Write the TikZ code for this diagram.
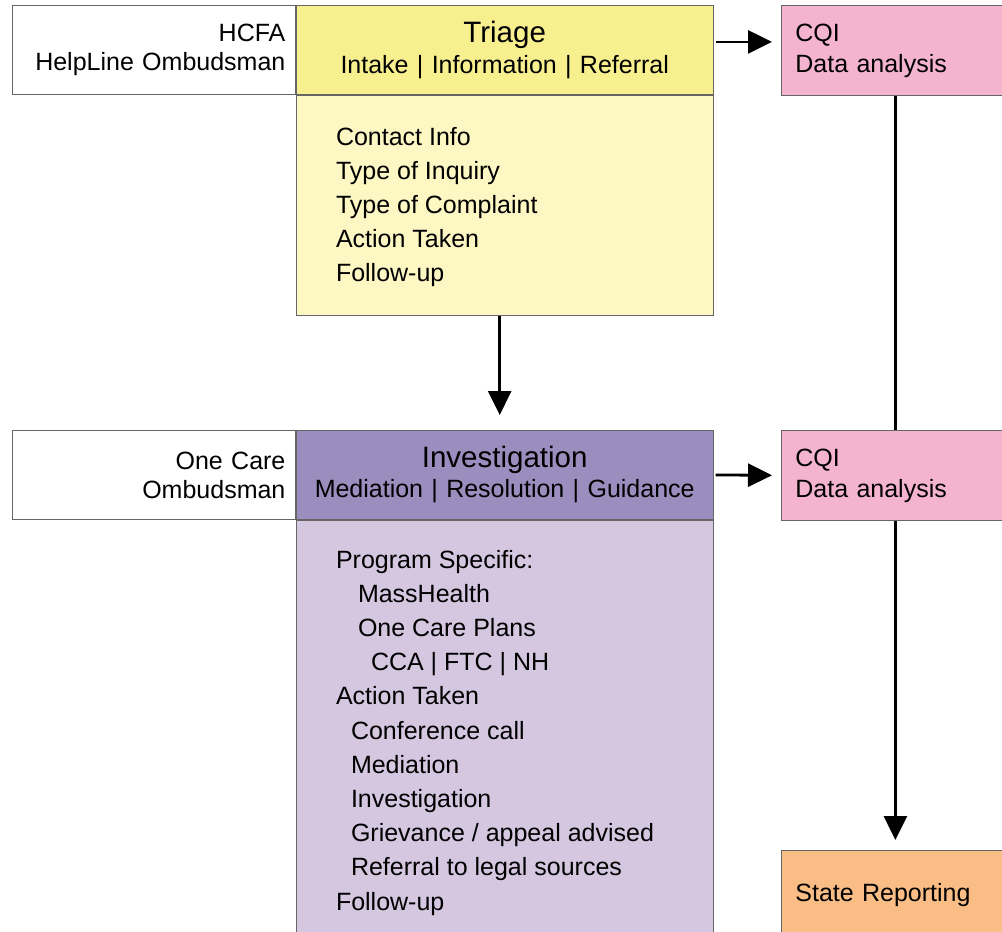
\documentclass[tikz,border=0pt]{standalone}
\usepackage{fontspec}
\setmainfont{Liberation Sans}
\usetikzlibrary{positioning,arrows.meta}

\definecolor{boxline}{HTML}{666666}
\definecolor{triagehead}{HTML}{F8F08E}
\definecolor{triagefill}{HTML}{FCF7C3}
\definecolor{investhead}{HTML}{9B8DBE}
\definecolor{investfill}{HTML}{D5C7E0}
\definecolor{cqipink}{HTML}{F4B3CF}
\definecolor{reportorange}{HTML}{F9BD85}

\begin{document}
\begin{tikzpicture}[x=1pt, y=-1pt,
    side/.style={draw=boxline, line width=0.8pt, fill=white, minimum width=283pt,
                 minimum height=89pt, text width=263pt, align=right, inner xsep=10pt,
                 font=\fontsize{25}{29}\selectfont},
    head/.style={draw=boxline, line width=0.8pt, minimum width=417pt,
                 minimum height=89pt, text width=405pt, align=center, inner xsep=6pt},
    body/.style={draw=boxline, line width=0.8pt, minimum width=417pt, inner sep=0pt},
    items/.style={align=left, inner sep=0pt, font=\fontsize{25}{34.2}\selectfont},
    cqi/.style={draw=boxline, line width=0.8pt, fill=cqipink, minimum width=228pt,
                minimum height=90pt, text width=200pt, align=left, inner xsep=14pt,
                font=\fontsize{25}{31}\selectfont},
    flow/.style={line width=2.8pt, -{Triangle[length=24pt, width=23pt]}}
]
\useasboundingbox (0,0) rectangle (1002,932);
\clip (0,0) rectangle (1002,932);

% --- Triage row ---
\node[side, anchor=north west] (hcfa) at (12,5) {HCFA\\HelpLine Ombudsman};
\node[head, fill=triagehead, right=0pt of hcfa, font=\fontsize{25}{31}\selectfont] (triage)
    {{\fontsize{29.5}{31}\selectfont Triage}\\Intake | Information | Referral};
\node[body, fill=triagefill, minimum height=220pt, below=0pt of triage] (triagebody) {};
\node[items, anchor=north west] (triagelist) at ([xshift=40pt, yshift=-32pt]triagebody.north west)
    {Contact Info\\Type of Inquiry\\Type of Complaint\\Action Taken\\Follow-up};

% --- Investigation row ---
\node[side, anchor=north west] (onecare) at (12,430) {One Care\\Ombudsman};
\node[head, fill=investhead, right=0pt of onecare, font=\fontsize{25}{30}\selectfont] (invest)
    {{\fontsize{29.5}{30}\selectfont Investigation}\\Mediation | Resolution | Guidance};
\node[body, fill=investfill, minimum height=430pt, below=0pt of invest] (investbody) {};
\node[items, anchor=north west] (investlist) at ([xshift=40pt, yshift=-30pt]investbody.north west)
    {Program Specific:\\
     \hspace*{22pt}MassHealth\\
     \hspace*{22pt}One Care Plans\\
     \hspace*{35pt}CCA | FTC | NH\\
     Action Taken\\
     \hspace*{15pt}Conference call\\
     \hspace*{15pt}Mediation\\
     \hspace*{15pt}Investigation\\
     \hspace*{15pt}Grievance / appeal advised\\
     \hspace*{15pt}Referral to legal sources\\
     Follow-up};

% --- Right column ---
\node[cqi, anchor=north west] (cqitop) at (781,5) {CQI\\Data analysis};
\node[cqi, anchor=north west] (cqimid) at (781,430) {CQI\\Data analysis};
\node[cqi, fill=reportorange, anchor=north west] (report) at (781,850) {State Reporting};

% --- Arrows ---
\coordinate (triageout) at ([yshift=8pt]triage.east);
\coordinate (triagedown) at ([xshift=-5pt]triagebody.south);
\draw[flow, shorten <=2pt, shorten >=9pt] (triageout) -- (cqitop.west |- triageout);
\draw[flow, shorten <=2pt, shorten >=9pt] (invest.east) -- (cqimid.west);
\draw[flow, shorten >=15pt] (triagedown) -- (triagedown |- invest.north);
\draw[line width=2.8pt] (cqitop.south) -- (cqimid.north);
\draw[flow, shorten >=10pt] (cqimid.south) -- (report.north);

\end{tikzpicture}
\end{document}
